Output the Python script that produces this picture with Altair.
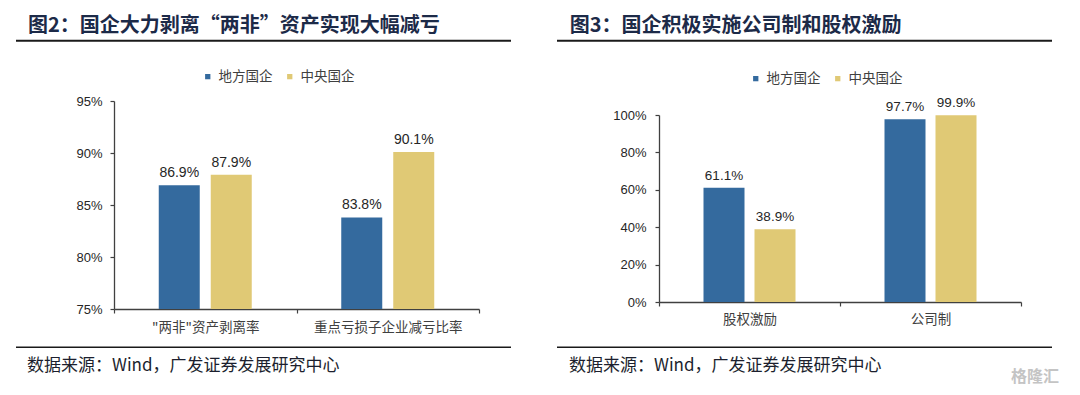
import altair as alt
import pandas as pd

# ---------------- data ----------------
series = ["地方国企", "中央国企"]
colors = ["#346A9E", "#E0C975"]

left_title = "图2：国企大力剥离“两非”资产实现大幅减亏"
left_categories = ['"两非"资产剥离率', "重点亏损子企业减亏比率"]
left_local = [86.9, 83.8]
left_central = [87.9, 90.1]
left_ticks = [75, 80, 85, 90, 95]

right_title = "图3：国企积极实施公司制和股权激励"
right_categories = ["股权激励", "公司制"]
right_local = [61.1, 97.7]
right_central = [38.9, 99.9]
right_ticks = [0, 20, 40, 60, 80, 100]

source_text = "数据来源：Wind，广发证券发展研究中心"
watermark = "格隆汇"

CJK = "Noto Sans CJK SC"
LAT = "Liberation Sans"


def make_df(cats, local, central):
    rows = []
    for i, c in enumerate(cats):
        rows.append({"cat": c, "series": series[0], "value": local[i]})
        rows.append({"cat": c, "series": series[1], "value": central[i]})
    df = pd.DataFrame(rows)
    df["label"] = df["value"].map(lambda v: f"{v:.1f}%")
    return df


def text_layer(txt, x, y, size, color, weight="normal", font=CJK, align="left"):
    return alt.Chart(pd.DataFrame({"t": [txt]})).mark_text(
        align=align, baseline="middle", font=font, fontSize=size,
        fontWeight=weight, color=color
    ).encode(text="t:N", x=alt.value(x), y=alt.value(y))


def rule_layer(x1, x2, y, w, color="#1a1a1a"):
    return alt.Chart(pd.DataFrame({"a": [0]})).mark_rule(
        color=color, strokeWidth=w
    ).encode(x=alt.value(x1), x2=alt.value(x2), y=alt.value(y))


def panel(df, cats, domain, yrange, ticks, width, height, off_inner, off_outer,
          title, geo, lab_size, legend_xy, xlabpad, ylabpad):
    base = alt.Chart(df)
    x = alt.X("cat:N", sort=cats, title=None,
              scale=alt.Scale(paddingInner=0, paddingOuter=0),
              axis=alt.Axis(labelAngle=0, tickBand="extent", tickSize=4,
                            domainColor="#404040", tickColor="#404040",
                            domainWidth=1.3, tickWidth=1.2,
                            labelFont=CJK, labelFontSize=13.5,
                            labelColor="#404040", labelPadding=xlabpad))
    xo = alt.XOffset("series:N", sort=series,
                     scale=alt.Scale(paddingInner=off_inner,
                                     paddingOuter=off_outer))
    y = alt.Y("value:Q", title=None,
              scale=alt.Scale(domain=domain, range=yrange, zero=False,
                              nice=False),
              axis=alt.Axis(values=ticks, labelExpr="datum.value + '%'",
                            grid=False, tickSize=4,
                            domainColor="#404040", tickColor="#404040",
                            domainWidth=1.3, tickWidth=1.2,
                            labelFont=LAT, labelFontSize=13,
                            labelColor="#262626", labelPadding=ylabpad))
    color = alt.Color("series:N", sort=series,
                      scale=alt.Scale(domain=series, range=colors),
                      legend=alt.Legend(orient="none", legendX=legend_xy[0],
                                        legendY=legend_xy[1],
                                        direction="horizontal", title=None,
                                        symbolType="square", symbolSize=28,
                                        symbolStrokeWidth=0,
                                        labelFont=CJK, labelFontSize=13.5,
                                        labelColor="#404040",
                                        columnPadding=10, labelOffset=4))
    bars = base.mark_bar().encode(x=x, xOffset=xo, y=y,
                                  y2=alt.datum(domain[0]), color=color)
    labels = base.mark_text(baseline="bottom", dy=-5, font=LAT,
                            fontSize=lab_size, color="#262626").encode(
        x=x, xOffset=xo, y=y, text="label:N")
    layers = [bars, labels,
              text_layer(title, geo["tx"], geo["ty"], 20, "#1c2a48", "bold"),
              rule_layer(geo["rx1"], geo["rx2"], geo["r1y"], 2),
              rule_layer(geo["rx1"], geo["rx2"], geo["r2y"], 1.5),
              text_layer(source_text, geo["sx"], geo["sy"], 17, "#1c1f2e")]
    if "wx" in geo:
        layers.append(text_layer(watermark, geo["wx"], geo["wy"], 16,
                                 "#c4c4c4", "bold"))
    return alt.layer(*layers).properties(width=width, height=height)


left = panel(make_df(left_categories, left_local, left_central),
             left_categories, [75, 95], [208, 0], left_ticks, 365, 208,
             0.2115, 0.8606, left_title,
             {"tx": -86, "ty": -75.5, "rx1": -98, "rx2": 397, "r1y": -60.3,
              "r2y": 246.3, "sx": -87, "sy": 264.5},
             14, (87, -31.5), 7, 8)

right = panel(make_df(right_categories, right_local, right_central),
              right_categories, [0, 100], [201, 14], right_ticks, 362, 201,
              0.196, 0.8725, right_title,
              {"tx": -89.3, "ty": -75.5, "rx1": -102, "rx2": 393, "r1y": -60.3,
               "r2y": 246.3, "sx": -90, "sy": 264.5, "wx": 352, "wy": 276},
              13.5, (90, -29.5), 6, 9)

chart = alt.hconcat(left, right, spacing=44).resolve_scale(
    color="independent", x="independent", y="independent",
    xOffset="independent"
).properties(
    padding={"left": 7, "top": 7, "right": 12, "bottom": 4},
    background="white"
).configure_view(stroke=None)

chart.save("out.html", embed_options={"renderer": "svg", "actions": False})
